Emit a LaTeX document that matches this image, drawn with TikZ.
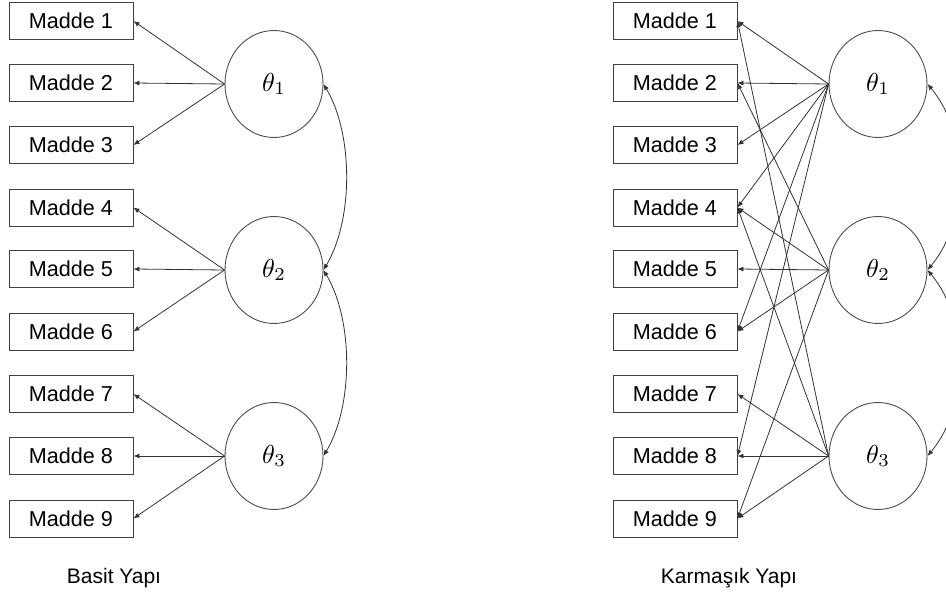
\documentclass[tikz,border=0pt]{standalone}
\usepackage{fontspec}
\setmainfont{Liberation Sans}
\usetikzlibrary{arrows.meta,shapes.geometric}
\begin{document}
\begin{tikzpicture}[x=1pt,y=-1pt,
  item/.style={draw=black!75,line width=0.9pt,minimum width=124pt,minimum height=37pt,inner sep=0pt,font=\fontsize{21.6}{24}\selectfont},
  latent/.style={draw=black!70,line width=0.9pt,ellipse,minimum width=98pt,minimum height=107pt,inner sep=0pt},
  load/.style={draw=black!80,line width=0.8pt,-{Latex[length=6pt,width=5pt]}},
  cov/.style={draw=black!80,line width=0.8pt,{Latex[length=6pt,width=5pt]}-{Latex[length=6pt,width=5pt]}},
  caption/.style={font=\fontsize{21}{24}\selectfont}]
\useasboundingbox (0,0) rectangle (946,607);
\newcommand{\thlabel}[1]{\scalebox{2.6}{$\theta_{#1}$}}
% items
\foreach \i/\y in {1/21,2/83,3/145,4/207.5,5/269,6/331.5,7/394,8/456,9/518.5}{
  \node[item] (L\i) at (71,\y) {Madde \i};
  \node[item] (R\i) at (675,\y) {Madde \i};
}
% latent variables
\foreach \k/\y in {1/84,2/270,3/456}{
  \node[latent] (LT\k) at (274,\y) {\thlabel{\k}};
  \node[latent] (RT\k) at (878,\y) {\thlabel{\k}};
}
% simple structure loadings
\foreach \k/\a/\b/\c in {1/1/2/3,2/4/5/6,3/7/8/9}{
  \draw[load] (LT\k.west) -- (L\a.east);
  \draw[load] (LT\k.west) -- (L\b.east);
  \draw[load] (LT\k.west) -- (L\c.east);
}
% complex structure loadings
\foreach \i in {1,2,3,4,6,8}{ \draw[load] (RT1.west) -- (R\i.east); }
\foreach \i in {2,4,5,6,9}{ \draw[load] (RT2.west) -- (R\i.east); }
\foreach \i in {1,4,7,8,9}{ \draw[load] (RT3.west) -- (R\i.east); }
% covariances
\draw[cov] (LT1.east) .. controls +(30,50) and +(30,-50) .. (LT2.east);
\draw[cov] (LT2.east) .. controls +(30,50) and +(30,-50) .. (LT3.east);
\draw[cov] (RT1.east) .. controls +(42,50) and +(42,-50) .. (RT2.east);
\draw[cov] (RT2.east) .. controls +(42,50) and +(42,-50) .. (RT3.east);
% captions
\node[caption] (cap1) at (114,578) {Basit Yapı};
\node[caption] (cap2) at (729,578) {Karmaşık Yapı};
\end{tikzpicture}
\end{document}
